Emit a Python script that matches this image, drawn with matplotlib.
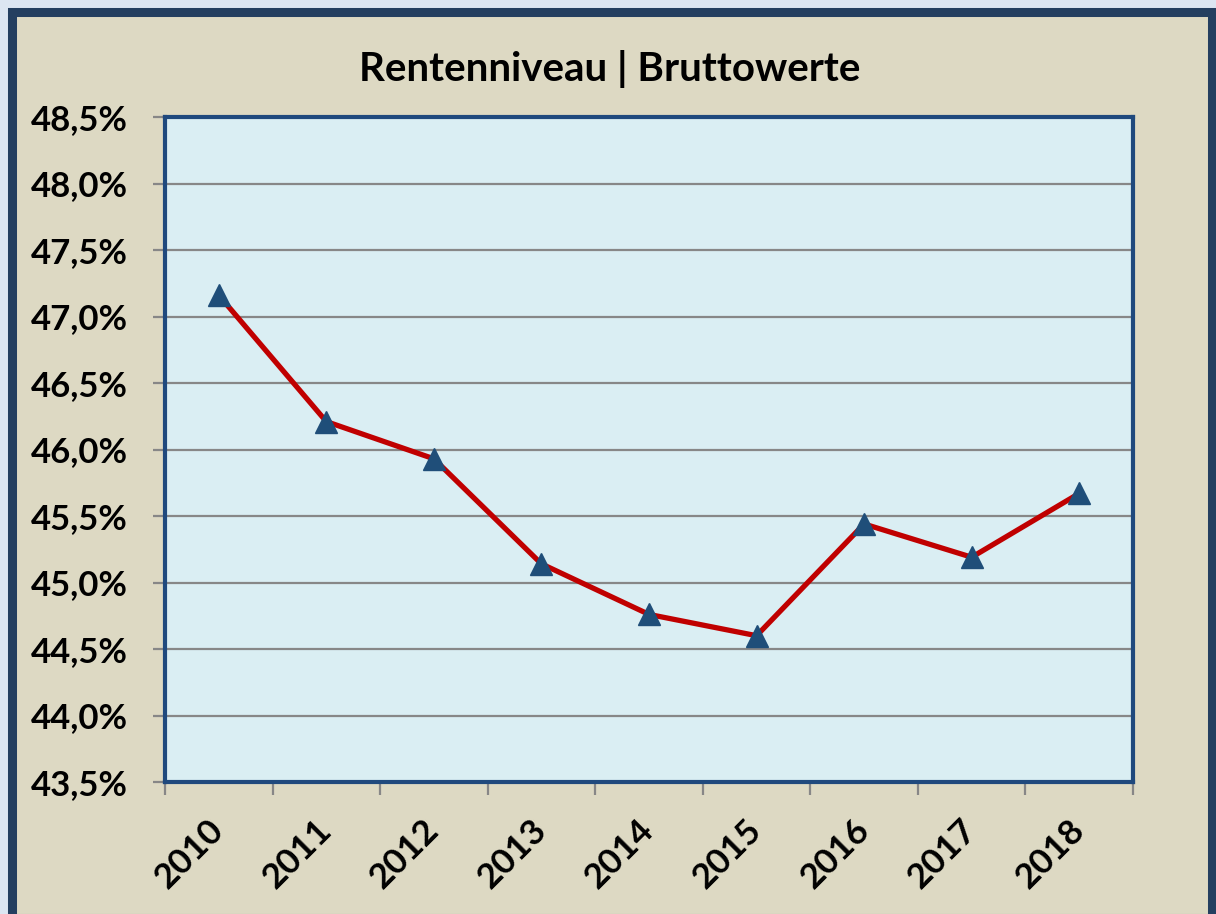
import matplotlib
matplotlib.use("Agg")
import matplotlib.pyplot as plt
import matplotlib.ticker as mticker
from matplotlib.patches import Rectangle

# Werte
jahre = ["2010", "2011", "2012", "2013", "2014", "2015", "2016", "2017", "2018"]
rentenniveau = [47.16, 46.21, 45.93, 45.14, 44.76, 44.60, 45.44, 45.19, 45.67]
y_ticks = [43.5, 44.0, 44.5, 45.0, 45.5, 46.0, 46.5, 47.0, 47.5, 48.0, 48.5]
titel = "Rentenniveau | Bruttowerte"

plt.rcParams['font.family'] = ['Lato', 'DejaVu Sans']

fig = plt.figure(figsize=(12.16, 9.14), dpi=100)
fig.patch.set_facecolor('#dce6f2')

# Rahmen um das ganze Diagramm
W, H = 1216, 914
rahmen = Rectangle((11.5 / W, -4 / H), (1211.5 - 11.5) / W, (902 + 4) / H,
                   transform=fig.transFigure, facecolor='#ddd9c3',
                   edgecolor='#243f60', linewidth=6.5, zorder=-1)
fig.patches.append(rahmen)

ax = fig.add_axes([165 / W, 1 - 782 / H, (1133 - 165) / W, (782 - 117) / H])
ax.set_zorder(1)
ax.set_facecolor('#daeef3')

x = [i + 0.5 for i in range(len(jahre))]
ax.plot(x, rentenniveau, color='#c00000', linewidth=3.8, zorder=3)
ax.plot(x, rentenniveau, linestyle='none', marker='^', markersize=16.5,
        color='#1f4e79', zorder=4)

ax.set_xlim(0, len(jahre))
ax.set_ylim(y_ticks[0], y_ticks[-1])
ax.set_yticks(y_ticks)
ax.yaxis.set_major_formatter(
    mticker.FuncFormatter(lambda v, p: f"{v:.1f}".replace('.', ',') + '%'))
ax.grid(axis='y', color='#878787', linewidth=1.6, zorder=1)
ax.set_axisbelow(True)

ax.set_xticks(range(len(jahre) + 1))
ax.set_xticklabels([])
ax.set_xticks(x, minor=True)
ax.set_xticklabels(jahre, minor=True, rotation=45, ha='right', va='center',
                   rotation_mode='anchor', fontsize=25.5, fontweight='bold')

ax.tick_params(axis='x', which='major', length=9, width=1.6, color='#878787')
ax.tick_params(axis='x', which='minor', length=0, pad=31)
ax.tick_params(axis='y', length=9, width=1.6, color='#878787', pad=18,
               labelsize=25)
for lbl in ax.get_yticklabels():
    lbl.set_fontweight('bold')

for s in ax.spines.values():
    s.set_color('#1f497d')
    s.set_linewidth(3)

fig.text(610 / W, 1 - 69 / H, titel, ha='center', va='center',
         fontsize=29, fontweight='bold')

fig.savefig('out.png', dpi=100, facecolor=fig.get_facecolor())
